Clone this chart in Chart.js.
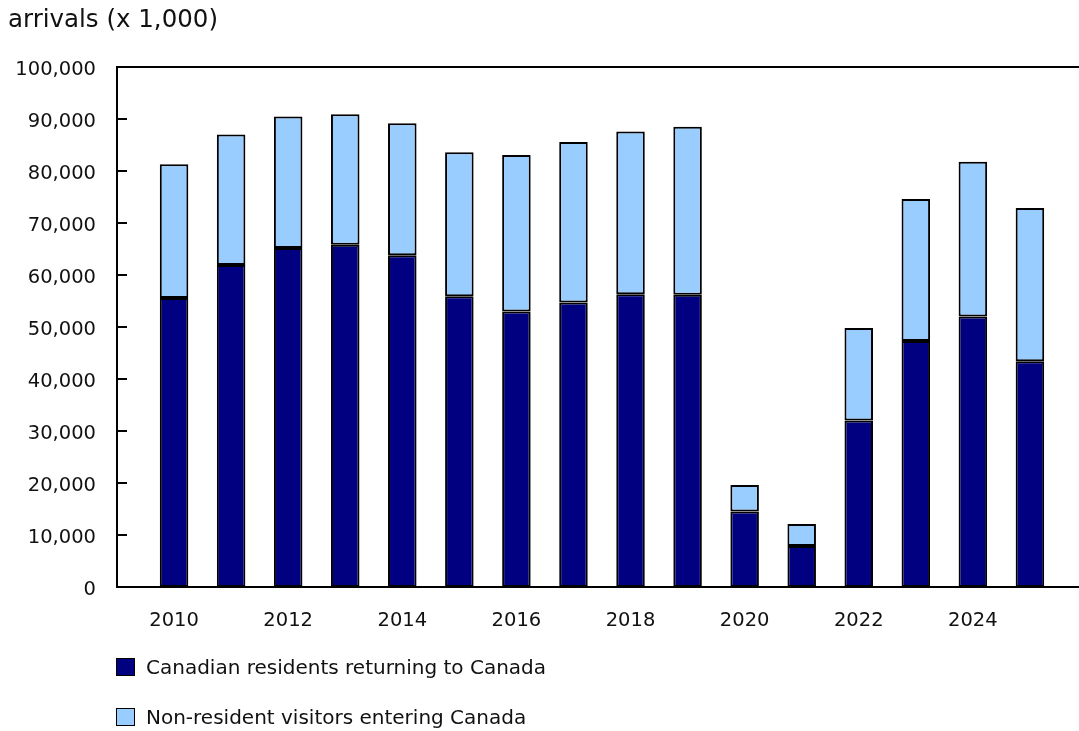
<!DOCTYPE html>
<html>
<head>
<meta charset="utf-8">
<script src="https://cdn.jsdelivr.net/npm/chart.js@4"></script>
<style>
  body { margin: 0; background: #fff; }
  #wrap { position: relative; width: 1079px; height: 731px; font-family: "DejaVu Sans", Verdana, sans-serif; color: #111; }
  #chart { position: absolute; left: 0; top: 0; }
  #title { position: absolute; left: 8px; top: 7px; font-size: 24.5px; line-height: 24.5px; white-space: nowrap; }
  #legend { position: absolute; left: 116px; top: 656px; font-size: 20px; }
  .item { display: flex; align-items: center; height: 22px; margin-bottom: 28px; white-space: nowrap; }
  .box { width: 17px; height: 16px; border: 1px solid #000; margin-right: 11px; }
</style>
</head>
<body>
<div id="wrap">
  <canvas id="chart" width="1079" height="731"></canvas>
  <div id="title">arrivals (x 1,000)</div>
  <div id="legend"></div>
</div>
<script>
const years = [2010, 2011, 2012, 2013, 2014, 2015, 2016, 2017, 2018, 2019, 2020, 2021, 2022, 2023, 2024, 2025];
const residents = [55600, 61900, 65200, 65800, 63800, 55900, 53000, 54700, 56300, 56200, 14500, 7900, 32000, 47300, 52000, 43400];
const nonResidents = [25700, 25100, 25300, 25100, 25400, 27700, 30100, 30900, 31300, 32300, 5100, 4200, 17800, 27300, 29800, 29500];
const seriesNames = ['Canadian residents returning to Canada', 'Non-resident visitors entering Canada'];
const seriesColors = ['#000080', '#99CCFF'];

Chart.defaults.font.family = '"DejaVu Sans", Verdana, sans-serif';
Chart.defaults.color = '#111';

// axis frame + inward tick marks on the y axis
const frame = {
  id: 'frame',
  afterDatasetsDraw(chart) {
    const { ctx, chartArea: a, scales: { y } } = chart;
    ctx.save();
    ctx.strokeStyle = '#000';
    ctx.lineWidth = 2;
    ctx.beginPath();
    ctx.moveTo(a.right, a.top);
    ctx.lineTo(a.left, a.top);
    ctx.lineTo(a.left, a.bottom);
    ctx.lineTo(a.right, a.bottom);
    y.ticks.forEach(t => {
      const py = y.getPixelForValue(t.value);
      ctx.moveTo(a.left, py);
      ctx.lineTo(a.left + 10, py);
    });
    ctx.stroke();
    ctx.restore();
  }
};

const ctx = document.getElementById('chart').getContext('2d');
const arrivalsChart = new Chart(ctx, {
  type: 'bar',
  data: {
    datasets: [
      {
        label: seriesNames[0],
        data: years.map((yr, i) => ({ x: yr, y: residents[i] })),
        backgroundColor: seriesColors[0],
        borderColor: '#000',
        borderWidth: 2,
        borderSkipped: false
      },
      {
        label: seriesNames[1],
        data: years.map((yr, i) => ({ x: yr, y: nonResidents[i] })),
        backgroundColor: seriesColors[1],
        borderColor: '#000',
        borderWidth: 2,
        borderSkipped: false
      }
    ]
  },
  options: {
    responsive: false,
    animation: false,
    barPercentage: 0.5,
    categoryPercentage: 1.0,
    layout: { padding: { top: 67, left: 0, right: 0, bottom: 94 } },
    plugins: {
      legend: { display: false },
      tooltip: { enabled: false }
    },
    scales: {
      x: {
        type: 'linear',
        stacked: true,
        offset: false,
        min: 2009,
        max: 2025.86,
        grid: { display: false, drawTicks: false, offset: false },
        border: { display: false },
        ticks: {
          stepSize: 2,
          padding: 22,
          autoSkip: false,
          maxRotation: 0,
          font: { size: 19.5 },
          callback: v => String(v)
        },
        afterBuildTicks: scale => {
          scale.ticks = years.filter(yr => yr % 2 === 0).map(yr => ({ value: yr }));
        },
        afterFit: scale => { scale.height = 50; }
      },
      y: {
        stacked: true,
        min: 0,
        max: 100000,
        grid: { display: false, drawTicks: false },
        border: { display: false },
        ticks: {
          stepSize: 10000,
          padding: 21,
          labelOffset: 3,
          font: { size: 19.5 },
          callback: v => v.toLocaleString('en-US')
        },
        afterFit: scale => { scale.width = 117; }
      }
    }
  },
  plugins: [frame]
});

// legend, stacked vertically under the chart
const legend = document.getElementById('legend');
arrivalsChart.data.datasets.forEach(ds => {
  const item = document.createElement('div');
  item.className = 'item';
  const box = document.createElement('span');
  box.className = 'box';
  box.style.background = ds.backgroundColor;
  const text = document.createElement('span');
  text.textContent = ds.label;
  item.appendChild(box);
  item.appendChild(text);
  legend.appendChild(item);
});
</script>
</body>
</html>
